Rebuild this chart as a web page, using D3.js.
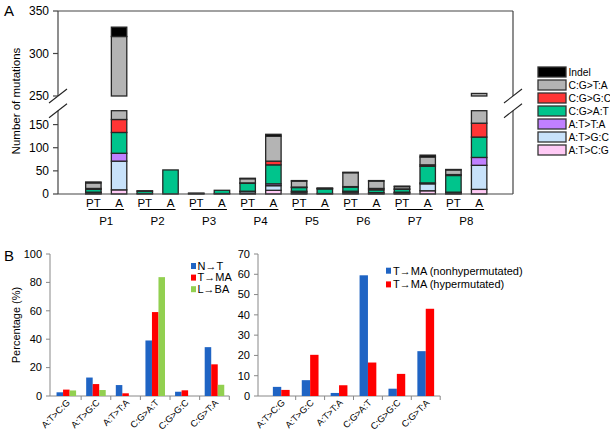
<!DOCTYPE html>
<html><head><meta charset="utf-8">
<script src="https://cdn.jsdelivr.net/npm/d3@7/dist/d3.min.js"></script>
<style>
body{margin:0;background:#fff}
text{font-family:"Liberation Sans",Arial,sans-serif;fill:#000}
</style>
</head><body>
<svg id="c" width="610" height="432"></svg>
<script>
// ---------- Panel A data ----------
const patients = ["P1","P2","P3","P4","P5","P6","P7","P8"];
const sampleTypes = ["PT","A"];
const mutTypes = ["A:T>C:G","A:T>G:C","A:T>T:A","C:G>A:T","C:G>G:C","C:G>T:A","Indel"]; // stack bottom -> top
const mutColors = ["#ffcaf5","#c8e2fa","#c080ff","#00c48c","#ff3535","#b4b4b4","#000000"];
// values per sample: P1 PT, P1 A, P2 PT, P2 A, ... P8 PT, P8 A
const atcg = [1, 9, 0, 0, 0, 0, 1, 8, 1, 0, 2, 1, 1, 7, 1, 10];
const atgc = [2, 62, 1, 0, 0, 1, 4, 10, 3, 1, 3, 2, 2, 15, 2, 52];
const atta = [1, 17, 0, 0, 0, 0, 1, 4, 2, 0, 1, 0, 1, 2, 1, 17];
const cgat = [6, 45, 5, 52, 1, 7, 17, 41, 8, 10, 9, 6, 6, 36, 36, 44];
const cggc = [2, 28, 0, 0, 0, 0, 1, 8, 1, 0, 1, 3, 1, 3, 2, 30];
const cgta = [12, 159, 1, 0, 1, 0, 9, 54, 13, 1, 30, 16, 5, 17, 10, 100];
const indel = [2, 11, 0, 0, 0, 0, 1, 4, 1, 1, 1, 1, 1, 4, 1, 0];
const lowTicks = [0, 50, 100, 150];
const highTicks = [250, 300, 350];

// ---------- Panel B data ----------
const bCats = ["A:T>C:G","A:T>G:C","A:T>T:A","C:G>A:T","C:G>G:C","C:G>T:A"];
const nT = [2.6, 13.0, 7.7, 39.1, 3.0, 34.4];
const tMA = [4.5, 8.4, 1.9, 59.1, 4.0, 22.3];
const lBA = [3.9, 4.2, 0, 83.7, 0, 7.9];
const leftSeries = ["N\u2192T","T\u2192MA","L\u2192BA"];
const leftColors = ["#1f64c4","#ff0000","#92d050"];
const leftTicks = [0, 20, 40, 60, 80, 100];
const nonHyper = [4.5, 7.8, 1.5, 59.5, 3.6, 22.1];
const hyper = [3.0, 20.3, 5.3, 16.5, 10.9, 43.0];
const rightSeries = ["T\u2192MA (nonhypermutated)","T\u2192MA (hypermutated)"];
const rightColors = ["#1f64c4","#ff0000"];
const rightTicks = [0, 10, 20, 30, 40, 50, 60, 70];

const svg = d3.select("#c");

// ================= PANEL A =================
const samples = [];
patients.forEach(p => sampleTypes.forEach(t => samples.push(p + " " + t)));
const matrix = [atcg, atgc, atta, cgat, cggc, cgta, indel];
const rows = samples.map((s, i) => {
  const r = {sample: s};
  mutTypes.forEach((m, k) => r[m] = matrix[k][i]);
  return r;
});
const stack = d3.stack().keys(mutTypes)(rows);

const axL = 58, axR = 513, yTop = 11, yBase = 194;
const lowMax = 180, highMin = 250, highMax = 350;
const x = d3.scaleBand().domain(samples).range([80.5, 492]).paddingInner(0.4).paddingOuter(0.2);
const yLow = d3.scaleLinear().domain([0, lowMax]).range([yBase, 110.7]);
const yHigh = d3.scaleLinear().domain([highMin, highMax]).range([96, yTop]);

const gA = svg.append("g");
stack.forEach((layer, k) => {
  layer.forEach((d, i) => {
    const v0 = d[0], v1 = d[1];
    if (v1 - v0 <= 0) return;
    const xx = x(samples[i]), w = x.bandwidth();
    if (v0 < lowMax) {
      const t = Math.min(v1, lowMax);
      gA.append("rect").attr("x", xx).attr("width", w)
        .attr("y", yLow(t)).attr("height", yLow(v0) - yLow(t))
        .attr("fill", mutColors[k]).attr("stroke", "#262626").attr("stroke-width", 1.3);
    }
    if (v1 > highMin) {
      const b = Math.max(v0, highMin);
      gA.append("rect").attr("x", xx).attr("width", w)
        .attr("y", yHigh(v1)).attr("height", yHigh(b) - yHigh(v1))
        .attr("fill", mutColors[k]).attr("stroke", "#262626").attr("stroke-width", 1.3);
    }
  });
});

// frame
const frameCol = "#444";
gA.append("line").attr("x1", axL).attr("x2", axR).attr("y1", yTop).attr("y2", yTop).attr("stroke", frameCol).attr("stroke-width", 1.2);
gA.append("line").attr("x1", axL).attr("x2", axR).attr("y1", yBase).attr("y2", yBase).attr("stroke", frameCol).attr("stroke-width", 1.2);
[axL, axR].forEach(xv => {
  gA.append("line").attr("x1", xv).attr("x2", xv).attr("y1", yTop).attr("y2", yHigh(highMin)).attr("stroke", frameCol).attr("stroke-width", 1.2);
  gA.append("line").attr("x1", xv).attr("x2", xv).attr("y1", yLow(lowMax)).attr("y2", yBase).attr("stroke", frameCol).attr("stroke-width", 1.2);
  [yHigh(highMin), yLow(lowMax)].forEach(yv => {
    gA.append("line").attr("x1", xv - 9).attr("x2", xv + 9).attr("y1", yv + 7).attr("y2", yv - 7)
      .attr("stroke", "#222").attr("stroke-width", 1.1);
  });
});
// y ticks
function yTicks(scale, ticks) {
  ticks.forEach(t => {
    const yy = scale(t);
    gA.append("line").attr("x1", axL - 5).attr("x2", axL).attr("y1", yy).attr("y2", yy).attr("stroke", frameCol).attr("stroke-width", 1.2);
    gA.append("text").attr("x", axL - 9).attr("y", yy).attr("dy", "0.35em").attr("text-anchor", "end")
      .style("font-size", "12px").text(t);
  });
}
yTicks(yLow, lowTicks);
yTicks(yHigh, highTicks);
gA.append("text").attr("transform", "translate(20,101) rotate(-90)").attr("text-anchor", "middle")
  .style("font-size", "11.5px").text("Number of mutations");
svg.append("text").attr("x", 4).attr("y", 16).style("font-size", "15px").text("A");

// x labels
samples.forEach(s => {
  gA.append("text").attr("x", x(s) + x.bandwidth() / 2).attr("y", 207).attr("text-anchor", "middle")
    .style("font-size", "11.5px").text(s.split(" ")[1]);
});
patients.forEach(p => {
  const x1 = x(p + " PT") + x.bandwidth() / 2 - 5;
  const x2 = x(p + " A") + x.bandwidth() / 2 + 5;
  gA.append("line").attr("x1", x1).attr("x2", x2).attr("y1", 209.5).attr("y2", 209.5).attr("stroke", "#000").attr("stroke-width", 1);
  gA.append("text").attr("x", (x1 + x2) / 2).attr("y", 224.5).attr("text-anchor", "middle")
    .style("font-size", "11.5px").text(p);
});

// legend A
const legOrder = mutTypes.slice().reverse();
legOrder.forEach((m, i) => {
  const yy = 72 + i * 13;
  const k = mutTypes.indexOf(m);
  gA.append("rect").attr("x", 538).attr("y", yy - 5).attr("width", 28).attr("height", 10)
    .attr("fill", mutColors[k]).attr("stroke", "#333").attr("stroke-width", 1.3);
  gA.append("text").attr("x", 568.5).attr("y", yy).attr("dy", "0.35em").style("font-size", "10.3px").text(m);
});

// ================= PANEL B =================
svg.append("text").attr("x", 4).attr("y", 261).style("font-size", "15px").text("B");

function panelB(opts) {
  const g = svg.append("g");
  const {axX, x0r, ymax, ticks, series, colors, data, groupFrac} = opts;
  const yB = d3.scaleLinear().domain([0, ymax]).range([396, 254]);
  const x0 = d3.scaleBand().domain(bCats).range(x0r).padding(0);
  const gw = x0.bandwidth() * groupFrac;
  const x1 = d3.scaleBand().domain(series).range([(x0.bandwidth() - gw) / 2, (x0.bandwidth() + gw) / 2]).padding(0);
  g.append("line").attr("x1", axX).attr("x2", axX).attr("y1", yB(ymax)).attr("y2", 396).attr("stroke", "#888").attr("stroke-width", 1);
  g.append("line").attr("x1", axX).attr("x2", x0r[1]).attr("y1", 396).attr("y2", 396).attr("stroke", "#888").attr("stroke-width", 1);
  ticks.forEach(t => {
    g.append("line").attr("x1", axX - 4).attr("x2", axX).attr("y1", yB(t)).attr("y2", yB(t)).attr("stroke", "#888");
    g.append("text").attr("x", axX - 8).attr("y", yB(t)).attr("dy", "0.35em").attr("text-anchor", "end")
      .style("font-size", "11px").text(t);
  });
  bCats.forEach((c, i) => {
    const xb = x0(c) + x0.bandwidth();
    g.append("line").attr("x1", xb).attr("x2", xb).attr("y1", 396).attr("y2", 400).attr("stroke", "#888");
    const cx = x0(c) + x0.bandwidth() / 2;
    g.append("text").attr("transform", `translate(${cx + 2},${401}) rotate(-45)`).attr("text-anchor", "end")
      .attr("dy", "0.35em").style("font-size", "9.2px").text(c);
  });
  series.forEach((s, j) => {
    data[j].forEach((v, i) => {
      if (v <= 0) return;
      g.append("rect").attr("x", x0(bCats[i]) + x1(s)).attr("width", x1.bandwidth())
        .attr("y", yB(v)).attr("height", 396 - yB(v)).attr("fill", colors[j]);
    });
  });
  return g;
}

panelB({axX: 50, x0r: [51.5, 229.3], ymax: 100, ticks: leftTicks, series: leftSeries, colors: leftColors,
  data: [nT, tMA, lBA], groupFrac: 0.66});
panelB({axX: 258, x0r: [266.8, 440.2], ymax: 70, ticks: rightTicks, series: rightSeries, colors: rightColors,
  data: [nonHyper, hyper], groupFrac: 0.58});

svg.append("text").attr("transform", "translate(20,325) rotate(-90)").attr("text-anchor", "middle")
  .style("font-size", "11px").text("Percentage (%)");

// legends B
leftSeries.forEach((s, i) => {
  const yy = 266 + i * 11.6;
  svg.append("rect").attr("x", 191).attr("y", yy - 3).attr("width", 5).attr("height", 6).attr("fill", leftColors[i]);
  svg.append("text").attr("x", 197.5).attr("y", yy).attr("dy", "0.35em").style("font-size", "11px").text(s);
});
rightSeries.forEach((s, i) => {
  const yy = 270.7 + i * 13.7;
  svg.append("rect").attr("x", 386).attr("y", yy - 3).attr("width", 5).attr("height", 6).attr("fill", rightColors[i]);
  svg.append("text").attr("x", 393).attr("y", yy).attr("dy", "0.35em").style("font-size", "11px").text(s);
});
</script>
</body></html>
